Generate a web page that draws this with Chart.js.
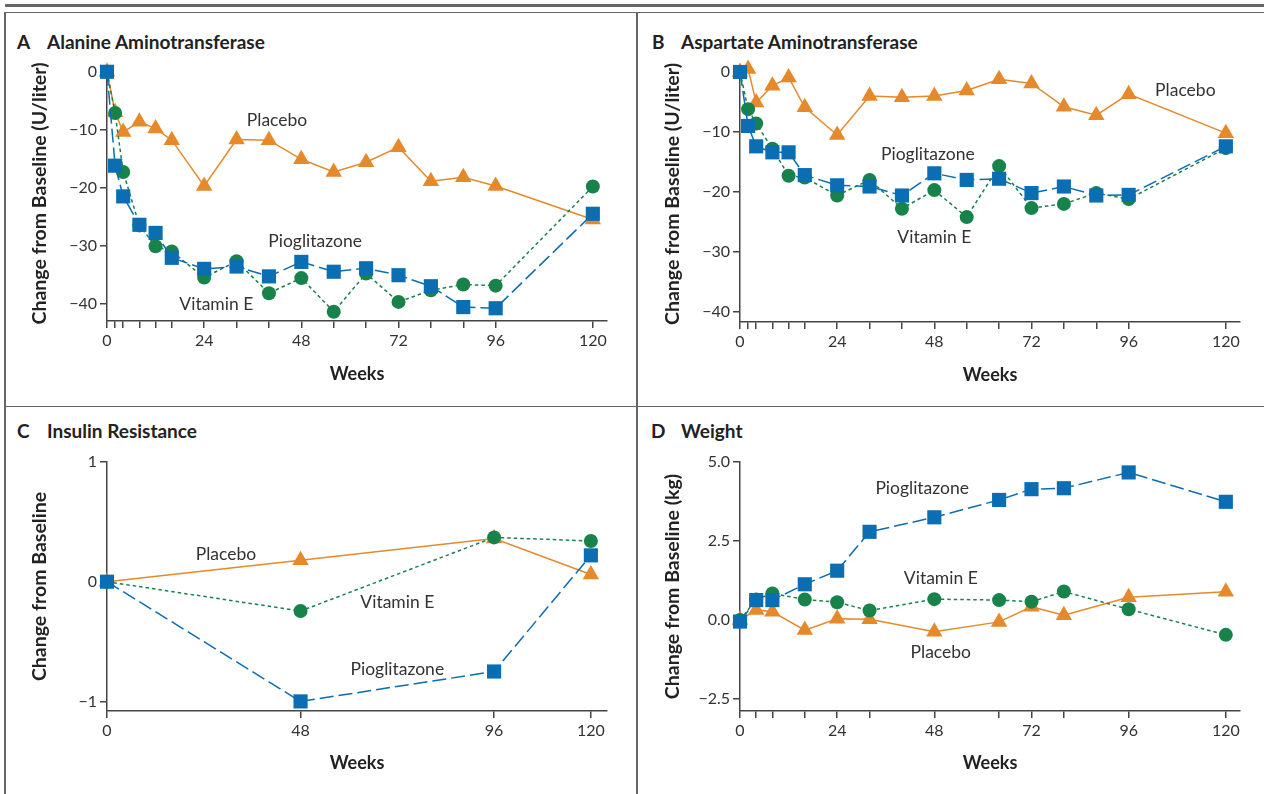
<!DOCTYPE html>
<html>
<head>
<meta charset="utf-8">
<script src="https://cdn.jsdelivr.net/npm/chart.js@4.4.1/dist/chart.umd.min.js"></script>
<style>
  body { margin: 0; background: #fff; }
  #page { position: relative; width: 1264px; height: 794px; overflow: hidden; background: #fff; }
  .rule { position: absolute; background: #666; }
  .title { position: absolute; font: bold 19px Lato, sans-serif; line-height: 19px; color: #222; white-space: nowrap; }
  canvas { position: absolute; }
</style>
</head>
<body>
<div id="page">
  <div class="rule" style="left:5px;top:3.5px;width:1259px;height:3px"></div>
  <div class="rule" style="left:5px;top:11.5px;width:1259px;height:1.5px"></div>
  <div class="rule" style="left:4px;top:12px;width:1.5px;height:782px"></div>
  <div class="rule" style="left:636px;top:12px;width:1.5px;height:782px"></div>
  <div class="rule" style="left:5px;top:405.5px;width:1259px;height:1.5px"></div>

  <div class="title" style="left:17px;top:31.5px">A</div>
  <div class="title" style="left:47px;top:31.5px">Alanine Aminotransferase</div>
  <div class="title" style="left:652px;top:32px">B</div>
  <div class="title" style="left:681px;top:32px">Aspartate Aminotransferase</div>
  <div class="title" style="left:17px;top:421px">C</div>
  <div class="title" style="left:47px;top:421px">Insulin Resistance</div>
  <div class="title" style="left:651px;top:421px">D</div>
  <div class="title" style="left:681px;top:421px">Weight</div>

  <canvas id="chartA" width="632" height="393" style="left:5px;top:13px"></canvas>
  <canvas id="chartB" width="627" height="393" style="left:637px;top:13px"></canvas>
  <canvas id="chartC" width="632" height="388" style="left:5px;top:406px"></canvas>
  <canvas id="chartD" width="627" height="388" style="left:637px;top:406px"></canvas>
</div>

<script>
// ---- data ----
const weeksAB = [0, 2, 4, 8, 12, 16, 24, 32, 40, 48, 56, 64, 72, 80, 88, 96, 120];
const weeksC = [0, 48, 96, 120];
const weeksD = [0, 4, 8, 16, 24, 32, 48, 64, 72, 80, 96, 120];
const weekLabels = [0, 24, 48, 72, 96, 120];
const weekLabelsC = [0, 48, 96, 120];

const altPlacebo = [0, -7, -10.4, -8.6, -9.8, -11.8, -19.7, -11.7, -11.8, -15.1, -17.3, -15.6, -13.0, -18.9, -18.2, -19.7, -25.5];
const altPio = [0, -16.2, -21.5, -26.4, -27.8, -32.1, -34.0, -33.6, -35.3, -32.8, -34.5, -33.9, -35.1, -37.0, -40.6, -40.8, -24.5];
const altVitE = [0, -7.1, -17.3, -26.5, -30.1, -31.0, -35.5, -32.7, -38.2, -35.6, -41.4, -34.8, -39.7, -37.7, -36.7, -36.9, -19.8];

const astPlacebo = [0, 0.5, -5.1, -2.3, -0.9, -5.9, -10.5, -4.0, -4.2, -4.0, -3.1, -1.2, -1.9, -5.8, -7.2, -3.7, -10.2];
const astPio = [0, -9.0, -12.4, -13.4, -13.4, -17.2, -18.9, -19.1, -20.6, -16.9, -18.0, -17.8, -20.2, -19.1, -20.6, -20.5, -12.4];
const astVitE = [0, -6.2, -8.6, -12.8, -17.3, -17.6, -20.6, -18.0, -22.8, -19.7, -24.2, -15.7, -22.7, -22.0, -20.2, -21.2, -12.7];

const irPlacebo = [0, 0.18, 0.36, 0.06];
const irPio = [0, -1.0, -0.75, 0.22];
const irVitE = [0, -0.245, 0.37, 0.34];

const wtPlacebo = [0, 0.32, 0.26, -0.32, 0.04, 0.02, -0.37, -0.06, 0.42, 0.15, 0.72, 0.89];
const wtPio = [-0.05, 0.63, 0.63, 1.13, 1.56, 2.79, 3.25, 3.80, 4.14, 4.17, 4.67, 3.74];
const wtVitE = [0, 0.65, 0.84, 0.65, 0.56, 0.30, 0.66, 0.63, 0.58, 0.90, 0.34, -0.47];

const yTicksAB = [0, -10, -20, -30, -40];
const yTicksC = [1, 0, -1];
const yTicksD = [5, 2.5, 0, -2.5];

const COL_PLACEBO = '#E5892A';
const COL_PIO = '#0B6DB2';
const COL_VITE = '#17834A';
const AXIS = '#444';
const TEXT = '#333';

// in-plot series names (week, value)
function notesPlugin(items) {
    return {
        id: 'notes',
        afterDatasetsDraw(chart) {
            const { ctx, scales: { x, y } } = chart;
            ctx.save();
            ctx.font = '17.5px Lato, sans-serif';
            ctx.fillStyle = TEXT;
            ctx.textAlign = 'center';
            ctx.textBaseline = 'middle';
            items.forEach(([t, wx, wy]) => ctx.fillText(t, x.getPixelForValue(wx), y.getPixelForValue(wy)));
            ctx.restore();
        }
    };
}

const fmtMinus = v => String(v).replace('-', '\u2212');

function makePanel(id, p) {
    const pts = arr => p.weeks.map((w, i) => ({ x: w, y: arr[i] }));
    const common = { borderWidth: 1.5, clip: false, pointBorderWidth: 0, tension: 0 };
    new Chart(document.getElementById(id), {
        type: 'line',
        data: {
            datasets: [
                { ...common, label: 'Pioglitazone', data: pts(p.pio), borderColor: COL_PIO, backgroundColor: COL_PIO,
                  borderDash: [14, 5], pointStyle: 'rect', pointRadius: 10, pointHoverRadius: 10 },
                { ...common, label: 'Vitamin E', data: pts(p.vitE), borderColor: COL_VITE, backgroundColor: COL_VITE,
                  borderDash: [3.5, 3], pointStyle: 'circle', pointRadius: 7, pointHoverRadius: 7 },
                { ...common, label: 'Placebo', data: pts(p.placebo), borderColor: COL_PLACEBO, backgroundColor: COL_PLACEBO,
                  pointStyle: 'triangle', pointRadius: 9.5, pointHoverRadius: 9.5 }
            ]
        },
        options: {
            responsive: false,
            animation: false,
            events: [],
            layout: { padding: p.pad },
            plugins: { legend: { display: false }, tooltip: { enabled: false } },
            scales: {
                x: {
                    type: 'linear', min: 0, max: p.xMax,
                    afterBuildTicks: s => { s.ticks = p.weeks.map(v => ({ value: v })); },
                    afterFit: s => { s.height = p.xh; },
                    ticks: {
                        autoSkip: false, maxRotation: 0, padding: 3, color: TEXT,
                        font: { family: 'Lato', size: 16 },
                        callback: v => (p.xLabels.includes(v) ? String(v) : '')
                    },
                    grid: { drawOnChartArea: false, drawTicks: true, tickLength: 7, color: AXIS, lineWidth: 1.5 },
                    border: { display: true, color: AXIS, width: 1.5 },
                    title: { display: true, text: 'Weeks', color: '#222', font: { family: 'Lato', size: 18, weight: 'bold' },
                             padding: { top: 0, bottom: 6 } }
                },
                y: {
                    type: 'linear', min: p.yMin, max: p.yMax,
                    afterBuildTicks: s => { s.ticks = p.yTicks.map(v => ({ value: v })); },
                    afterFit: s => { s.width = 80; },
                    ticks: {
                        padding: 3, color: TEXT, font: { family: 'Lato', size: 16 },
                        callback: v => fmtMinus(p.dec ? v.toFixed(1) : v)
                    },
                    grid: { drawOnChartArea: false, drawTicks: true, tickLength: 7, color: AXIS, lineWidth: 1.5 },
                    border: { display: true, color: AXIS, width: 1.5 },
                    title: { display: true, text: p.yTitle, color: '#222', font: { family: 'Lato', size: 19.5, weight: 'bold' },
                             padding: { top: 1, bottom: 0 } }
                }
            }
        },
        plugins: [notesPlugin(p.notes)]
    });
}

makePanel('chartA', {
    weeks: weeksAB, xLabels: weekLabels, xMax: 123.5, yMin: -43, yMax: 1, yTicks: yTicksAB,
    pio: altPio, vitE: altVitE, placebo: altPlacebo,
    yTitle: 'Change from Baseline (U/liter)',
    pad: { left: 22, top: 53, right: 30, bottom: 15 }, xh: 70,
    notes: [['Placebo', 42, -8.4], ['Pioglitazone', 51.4, -29.3], ['Vitamin E', 27, -40.2]]
});

makePanel('chartB', {
    weeks: weeksAB, xLabels: weekLabels, xMax: 123.5, yMin: -41.7, yMax: 1, yTicks: yTicksAB,
    pio: astPio, vitE: astVitE, placebo: astPlacebo,
    yTitle: 'Change from Baseline (U/liter)',
    pad: { left: 23, top: 53, right: 24, bottom: 14 }, xh: 70,
    notes: [['Placebo', 110, -3], ['Pioglitazone', 46.4, -13.7], ['Vitamin E', 48, -27.5]]
});

makePanel('chartC', {
    weeks: weeksC, xLabels: weekLabelsC, xMax: 124, yMin: -1.08, yMax: 1, yTicks: yTicksC,
    pio: irPio, vitE: irVitE, placebo: irPlacebo,
    yTitle: 'Change from Baseline',
    pad: { left: 22, top: 56, right: 30, bottom: 14 }, xh: 69,
    notes: [['Placebo', 29.5, 0.23], ['Vitamin E', 72, -0.17], ['Pioglitazone', 72, -0.73]]
});

makePanel('chartD', {
    weeks: weeksD, xLabels: weekLabels, xMax: 123.5, yMin: -2.88, yMax: 5, yTicks: yTicksD, dec: true,
    pio: wtPio, vitE: wtVitE, placebo: wtPlacebo,
    yTitle: 'Change from Baseline (kg)',
    pad: { left: 23, top: 56, right: 24, bottom: 14 }, xh: 69,
    notes: [['Pioglitazone', 45, 4.15], ['Vitamin E', 49.6, 1.33], ['Placebo', 49.6, -1.04]]
});
</script>
</body>
</html>
